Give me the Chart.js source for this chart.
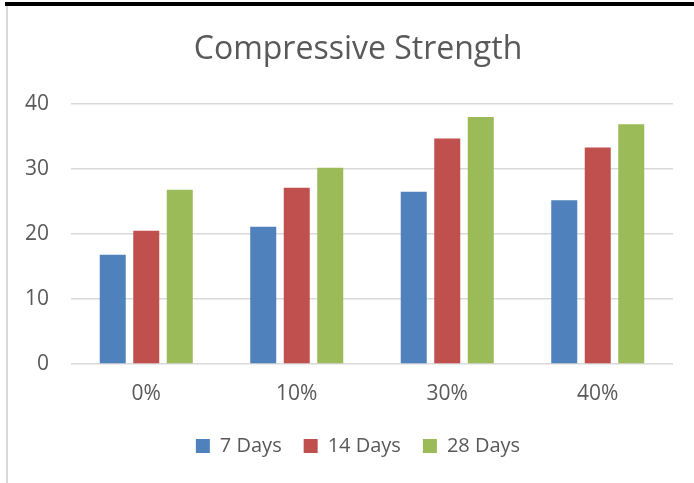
<!DOCTYPE html>
<html>
<head>
<meta charset="utf-8">
<script src="https://cdn.jsdelivr.net/npm/chart.js@4"></script>
<style>
  body { margin: 0; background: #fff; }
  #wrap { position: relative; width: 694px; height: 483px; overflow: hidden; }
  #topbar { position: absolute; left: 5px; top: 2px; width: 689px; height: 4px; background: #000; }
  #leftline { position: absolute; left: 6px; top: 6px; width: 2px; height: 477px; background: #d9d9d9; }
  canvas { position: absolute; left: 0; top: 0; }
</style>
</head>
<body>
<div id="wrap">
  <!-- canvas is a bit wider than the page: original frame is cut off on the right -->
  <canvas id="strengthChart" width="696" height="483"></canvas>
  <div id="topbar"></div>
  <div id="leftline"></div>
</div>
<script>
const categories = ["0%", "10%", "30%", "40%"];
const days7 = [16.8, 21.1, 26.5, 25.2];
const days14 = [20.5, 27.1, 34.7, 33.3];
const days28 = [26.8, 30.2, 38.0, 36.9];
const yTicks = [0, 10, 20, 30, 40];

const textColor = "#595959";
const fontFamily = "'Open Sans', sans-serif";

const ctx = document.getElementById("strengthChart").getContext("2d");
new Chart(ctx, {
  type: "bar",
  data: {
    labels: categories,
    datasets: [
      { label: "7 Days", data: days7, backgroundColor: "#4F81BD" },
      { label: "14 Days", data: days14, backgroundColor: "#C0504D" },
      { label: "28 Days", data: days28, backgroundColor: "#9BBB59" },
    ],
  },
  options: {
    responsive: false,
    animation: false,
    devicePixelRatio: 1,
    layout: { padding: { top: 18, left: 20, right: 0, bottom: 17 } },
    datasets: {
      bar: { categoryPercentage: 0.668, barPercentage: 0.776 },
    },
    scales: {
      x: {
        afterFit: (scale) => {
          scale.height = 50;
        },
        grid: { display: false },
        border: { display: false },
        ticks: { color: textColor, font: { family: fontFamily, size: 21 }, padding: 9 },
      },
      y: {
        min: 0,
        max: 40,
        afterBuildTicks: (scale) => {
          scale.ticks = yTicks.map((v) => ({ value: v }));
        },
        afterFit: (scale) => {
          scale.width = 51;
        },
        grid: { color: "#d9d9d9", lineWidth: 1.5, drawTicks: false },
        border: { display: false },
        ticks: { color: textColor, font: { family: fontFamily, size: 21 }, padding: 22 },
      },
      // empty right-hand spacer so the plot ends where the original does
      spacer: {
        type: "linear",
        position: "right",
        display: true,
        afterFit: (scale) => {
          scale.width = 23;
        },
        grid: { display: false },
        border: { display: false },
        ticks: { display: false },
      },
    },
    plugins: {
      title: {
        display: true,
        text: "Compressive Strength",
        color: textColor,
        font: { family: fontFamily, size: 32, weight: "normal" },
        padding: { top: 13, bottom: 34.6 },
      },
      legend: {
        position: "bottom",
        labels: {
          color: textColor,
          font: { family: fontFamily, size: 20 },
          boxWidth: 14,
          boxHeight: 14,
          padding: 22,
        },
      },
      tooltip: { enabled: false },
    },
  },
});
</script>
</body>
</html>
